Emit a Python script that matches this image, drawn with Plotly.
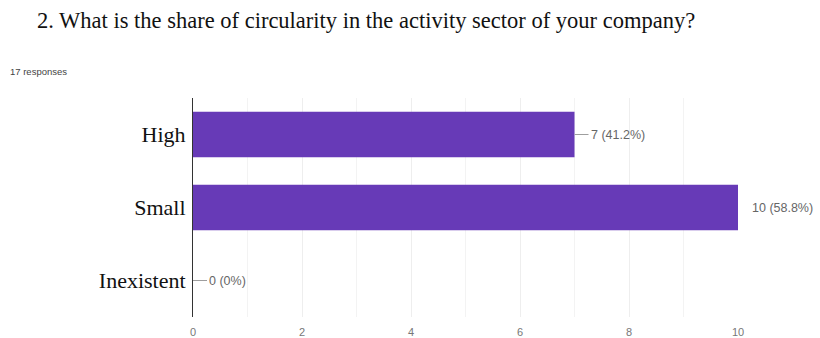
import plotly.graph_objects as go

categories = ["High", "Small", "Inexistent"]
counts = [7, 10, 0]
total_responses = 17
x_ticks = [0, 2, 4, 6, 8, 10]

bar_color = "#673ab7"
label_color = "#666666"

fig = go.Figure()
fig.add_trace(go.Bar(
    x=counts, y=categories, orientation="h",
    marker=dict(color=bar_color, line=dict(width=0)),
    hoverinfo="skip",
))

for cat, v in zip(categories, counts):
    pct = v / total_responses * 100
    txt = f"{v} ({pct:.1f}%)" if v else f"{v} (0%)"
    if v == max(counts):
        fig.add_annotation(x=v, y=cat, text=txt, showarrow=False,
                           xanchor="left", xshift=12,
                           font=dict(family="Arial, Liberation Sans", size=12.5, color=label_color))
    else:
        fig.add_annotation(x=v, y=cat, text=txt, showarrow=True,
                           arrowhead=0, arrowwidth=1, arrowcolor="#9e9e9e",
                           ax=14, ay=0, xanchor="left", standoff=0,
                           font=dict(family="Arial, Liberation Sans", size=12.5, color=label_color))

fig.add_annotation(text="2. What is the share of circularity in the activity sector of your company?",
                   xref="paper", yref="paper", x=-0.29, y=1.0, yshift=78,
                   xanchor="left", yanchor="middle", showarrow=False,
                   font=dict(family="Liberation Serif, Times New Roman", size=22.5, color="#111111"))
fig.add_annotation(text="17 responses", xref="paper", yref="paper", x=-0.339, y=1.0, yshift=27,
                   xanchor="left", yanchor="middle", showarrow=False,
                   font=dict(family="Arial, Liberation Sans", size=9.5, color="#444444"))

fig.update_layout(
    width=820, height=338,
    margin=dict(l=193, r=82, t=98, b=21),
    paper_bgcolor="white", plot_bgcolor="white",
    showlegend=False, bargap=0.38,
    xaxis=dict(range=[0, 10], tickvals=x_ticks, automargin=False,
               showgrid=True, gridcolor="#eeeeee", gridwidth=1,
               zeroline=False, showline=False, ticklabelstandoff=7,
               tickfont=dict(family="Arial, Liberation Sans", size=11, color="#777777"),
               minor=dict(dtick=1, showgrid=True, gridcolor="#f3f3f3")),
    yaxis=dict(autorange="reversed", showline=True, linecolor="#333333", linewidth=1,
               showgrid=False, ticks="", ticklabelstandoff=2, automargin=False,
               tickfont=dict(family="Liberation Serif, Times New Roman", size=22, color="#111111")),
)

fig.write_html("out.html")
